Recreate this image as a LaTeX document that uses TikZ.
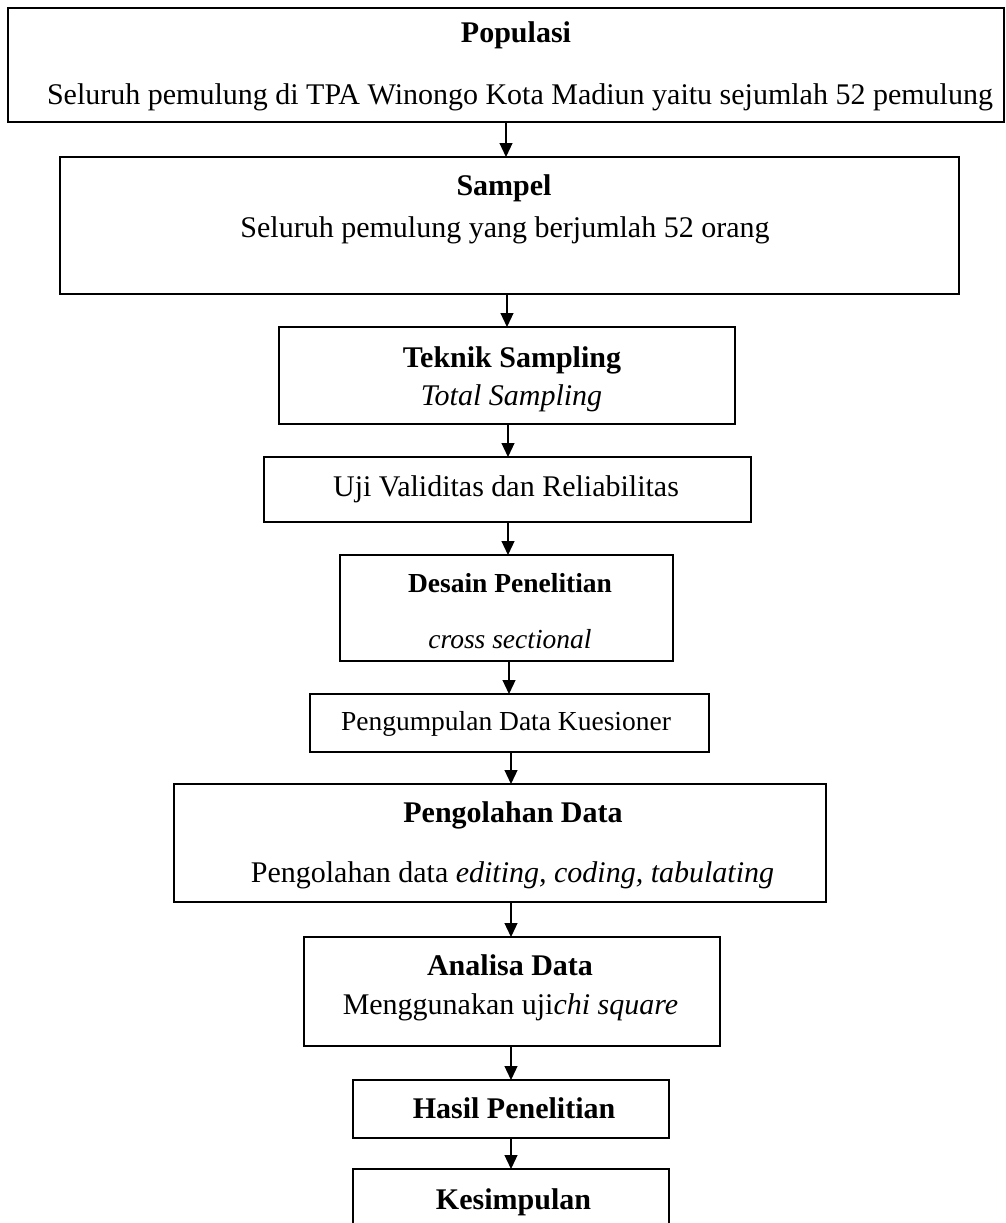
\documentclass[tikz,border=0pt]{standalone}
\usepackage{fontspec}
\setmainfont{Liberation Serif}
\usetikzlibrary{arrows.meta}
\begin{document}
\begin{tikzpicture}[x=1pt,y=-1pt,
  box/.style={draw, line width=1.6pt, rectangle, inner sep=0pt, outer sep=0pt},
  txt/.style={anchor=base, inner sep=0pt, font=\fontsize{30}{36}\selectfont},
  smalltxt/.style={anchor=base, inner sep=0pt, font=\fontsize{27.5}{33}\selectfont},
  arr/.style={line width=1.2pt, -{Triangle[length=14pt,width=13pt]}}]
\clip (0,0) rectangle (1006,1223);
\fill[white] (0,0) rectangle (1006,1223);

% boxes of the flow
\node[box, line width=2pt, minimum width=996pt, minimum height=114pt] (b1) at (506,65) {};
\node[box, minimum width=899pt, minimum height=137pt] (b2) at (509.5,225.5) {};
\node[box, minimum width=456pt, minimum height=97pt] (b3) at (507,375.5) {};
\node[box, minimum width=487pt, minimum height=65pt] (b4) at (507.5,489.5) {};
\node[box, minimum width=333pt, minimum height=106pt] (b5) at (506.5,608) {};
\node[box, minimum width=399pt, minimum height=58pt] (b6) at (509.5,723) {};
\node[box, minimum width=652pt, minimum height=118pt] (b7) at (500,843) {};
\node[box, minimum width=416pt, minimum height=109pt] (b8) at (512,991.5) {};
\node[box, minimum width=316pt, minimum height=58pt] (b9) at (511,1109) {};
\node[box, minimum width=316pt, minimum height=71pt] (b10) at (511,1204.5) {};

% labels
\node[txt] (t1a) at (516,43) {\textbf{Populasi}};
\node[txt] (t1b) at (520,104) {Seluruh pemulung di TPA Winongo Kota Madiun yaitu sejumlah 52 pemulung};
\node[txt] (t2a) at (504,195) {\textbf{Sampel}};
\node[txt] (t2b) at (505,237) {Seluruh pemulung yang berjumlah 52 orang};
\node[txt] (t3a) at (512,367) {\textbf{Teknik Sampling}};
\node[txt] (t3b) at (511.5,405) {\textit{Total Sampling}};
\node[txt] (t4) at (506,496) {Uji Validitas dan Reliabilitas};
\node[smalltxt] (t5a) at (510,592) {\textbf{Desain Penelitian}};
\node[smalltxt] (t5b) at (510,648) {\textit{cross sectional}};
\node[smalltxt] (t6) at (506,730) {Pengumpulan Data Kuesioner};
\node[txt] (t7a) at (513,822) {\textbf{Pengolahan Data}};
\node[txt] (t7b) at (512.5,882) {Pengolahan data \textit{editing, coding, tabulating}};
\node[txt] (t8a) at (510,975) {\textbf{Analisa Data}};
\node[txt] (t8b) at (510.5,1014) {Menggunakan uji\textit{chi square}};
\node[txt] (t9) at (514,1118) {\textbf{Hasil Penelitian}};
\node[txt] (t10) at (513.5,1209) {\textbf{Kesimpulan}};

% arrow columns
\coordinate (x1) at (506,0);
\coordinate (x2) at (507,0);
\coordinate (x3) at (508,0);
\coordinate (x4) at (508,0);
\coordinate (x5) at (509,0);
\coordinate (x6) at (511,0);
\coordinate (x7) at (511,0);
\coordinate (x8) at (511,0);
\coordinate (x9) at (511,0);

\draw[arr] (b1.south -| x1) -- (b2.north -| x1);
\draw[arr] (b2.south -| x2) -- (b3.north -| x2);
\draw[arr] (b3.south -| x3) -- (b4.north -| x3);
\draw[arr] (b4.south -| x4) -- (b5.north -| x4);
\draw[arr] (b5.south -| x5) -- (b6.north -| x5);
\draw[arr] (b6.south -| x6) -- (b7.north -| x6);
\draw[arr] (b7.south -| x7) -- (b8.north -| x7);
\draw[arr] (b8.south -| x8) -- (b9.north -| x8);
\draw[arr] (b9.south -| x9) -- (b10.north -| x9);
\end{tikzpicture}
\end{document}
